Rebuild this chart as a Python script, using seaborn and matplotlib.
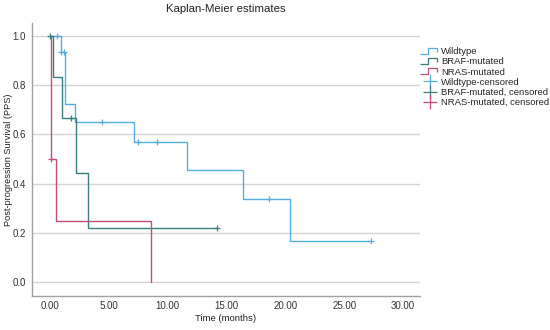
import numpy as np
import pandas as pd
import seaborn as sns
import matplotlib.pyplot as plt
from matplotlib.lines import Line2D
from matplotlib.path import Path

# survival curves (time in months, survival fraction)
wt_time = [0, 0.88, 1.28, 2.1, 7.12, 11.6, 16.36, 20.38, 27.3]
wt_surv = [1.0, 0.935, 0.722, 0.649, 0.568, 0.454, 0.34, 0.169, 0.169]
braf_time = [0, 0.2, 1.0, 2.16, 3.23, 14.2]
braf_surv = [1.0, 0.833, 0.667, 0.444, 0.222, 0.222]
nras_time = [0, 0.03, 0.5, 8.56]
nras_surv = [1.0, 0.5, 0.25, 0.0]

# censored observations
wt_cens_time = [0.57, 0.95, 1.15, 4.37, 7.5, 9.07, 18.6, 27.3]
wt_cens_surv = [1.0, 0.935, 0.935, 0.649, 0.568, 0.568, 0.34, 0.169]
braf_cens_time = [0.0, 1.8, 14.2]
braf_cens_surv = [1.0, 0.667, 0.222]
nras_cens_time = [0.03]
nras_cens_surv = [0.5]

groups = ["Wildtype", "BRAF-mutated", "NRAS-mutated"]
colors = {"Wildtype": "#56aee0", "BRAF-mutated": "#3a7f7f", "NRAS-mutated": "#c64d78"}

curves = pd.concat([
    pd.DataFrame({"t": wt_time, "s": wt_surv, "group": "Wildtype"}),
    pd.DataFrame({"t": braf_time, "s": braf_surv, "group": "BRAF-mutated"}),
    pd.DataFrame({"t": nras_time, "s": nras_surv, "group": "NRAS-mutated"}),
], ignore_index=True)
cens = pd.concat([
    pd.DataFrame({"t": wt_cens_time, "s": wt_cens_surv, "group": "Wildtype"}),
    pd.DataFrame({"t": braf_cens_time, "s": braf_cens_surv, "group": "BRAF-mutated"}),
    pd.DataFrame({"t": nras_cens_time, "s": nras_cens_surv, "group": "NRAS-mutated"}),
], ignore_index=True)

sns.set_style("white")
plt.rcParams["font.family"] = ["Liberation Sans", "DejaVu Sans"]

fig = plt.figure(figsize=(5.5, 3.3), dpi=100)
ax = fig.add_axes([0.0576, 0.104, 0.706, 0.826])

ax.yaxis.grid(True, color="#d4d4d4", linewidth=1.0)
ax.set_axisbelow(True)

for g in groups:
    sns.lineplot(data=curves[curves.group == g], x="t", y="s", color=colors[g],
                 drawstyle="steps-post", estimator=None, sort=False,
                 linewidth=1.0, ax=ax, legend=False)
    sub = cens[cens.group == g]
    sns.scatterplot(data=sub, x="t", y="s", color=colors[g], marker="+",
                    s=22, linewidth=0.9, ax=ax, legend=False, zorder=4)

ax.set_xlim(-1.58, 31.44)
ax.set_ylim(-0.054, 1.052)
ax.set_xticks([0, 5, 10, 15, 20, 25, 30])
ax.set_xticklabels([f"{v:.2f}" for v in [0, 5, 10, 15, 20, 25, 30]])
ax.set_yticks([0, 0.2, 0.4, 0.6, 0.8, 1.0])
ax.set_yticklabels([f"{v:.1f}" for v in [0, 0.2, 0.4, 0.6, 0.8, 1.0]])
ax.tick_params(labelsize=7, colors="#333333", length=2, width=0.6, pad=2)
ax.tick_params(axis="x", length=0, pad=4)

for side in ["top", "right"]:
    ax.spines[side].set_visible(False)
for side in ["left", "bottom"]:
    ax.spines[side].set_color("#a0a0a0")
    ax.spines[side].set_linewidth(1.0)

ax.set_xlabel("Time (months)", fontsize=6.8, color="#222222", labelpad=2)
ax.set_ylabel("Post-progression Survival (PPS)", fontsize=6.6, color="#222222")
ax.yaxis.set_label_coords(-0.047, 0.5)
ax.set_title("Kaplan-Meier estimates", fontsize=8.2, color="#222222", pad=8)

# step-shaped icon for the curve entries
step_icon = Path([(-1, -0.35), (-0.2, -0.35), (-0.2, 0.35), (0.7, 0.35), (0.7, -0.1)])
handles = [Line2D([], [], linestyle="none", marker=step_icon, markersize=14,
                  markerfacecolor="none", markeredgecolor=colors[g], markeredgewidth=0.9)
           for g in groups]
handles += [Line2D([], [], linestyle="none", marker="+", markersize=10,
                   color=colors[g], markeredgewidth=0.9) for g in groups]
labels = ["Wildtype", "BRAF-mutated", "NRAS-mutated",
          "Wildtype-censored", "BRAF-mutated, censored", "NRAS-mutated, censored"]
fig.legend(handles, labels, loc="upper left", bbox_to_anchor=(0.762, 0.868),
           frameon=False, fontsize=6.8, handlelength=1.6, handletextpad=0.3,
           labelspacing=0.12, borderaxespad=0)

fig.savefig("out.png", dpi=100)
